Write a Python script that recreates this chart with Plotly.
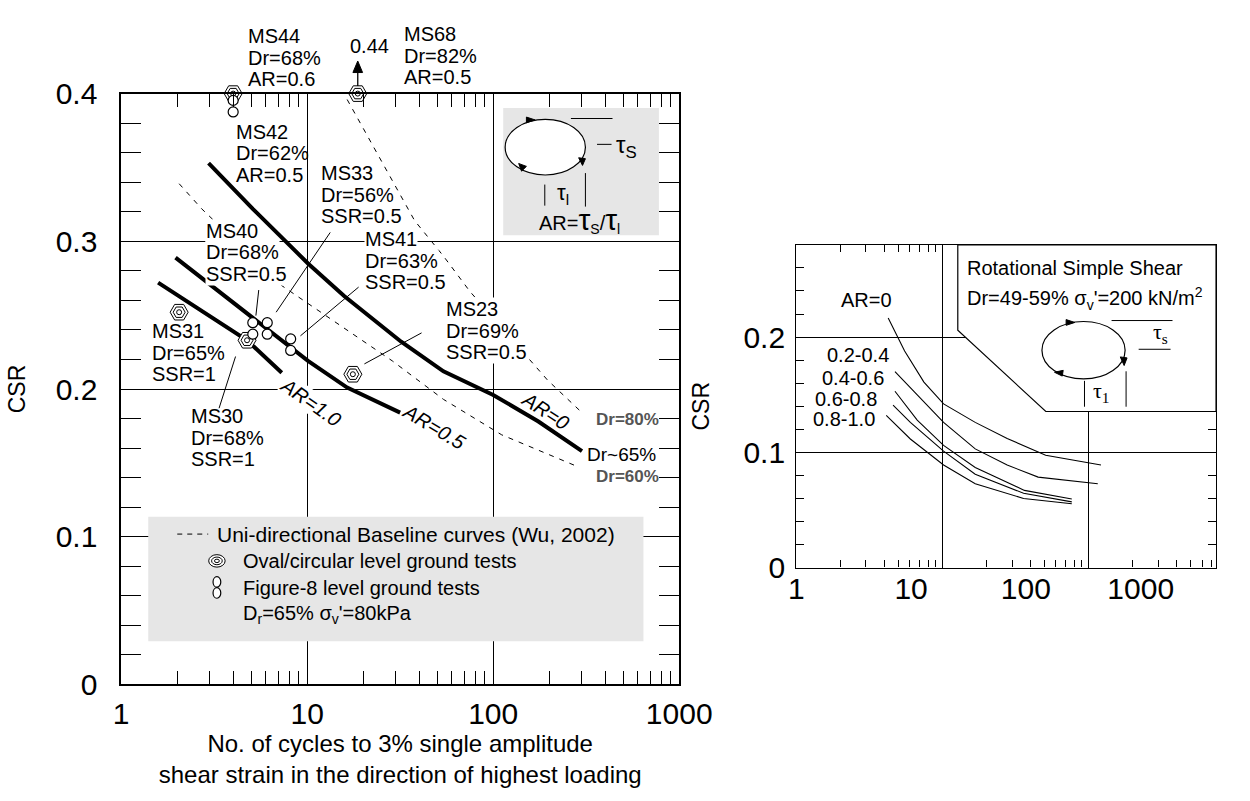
import numpy as np
import plotly.graph_objects as go

W, H = 1250, 801
FONT = "Arial, Liberation Sans, sans-serif"
SERIF = "Liberation Serif, Times New Roman, serif"


def PX(x):
    return x / W


def PY(y):
    return 1 - y / H


# ---------------- Left panel data ----------------
ar0_n = [2.95, 5.1, 10.1, 15.8, 32, 54, 100, 175, 300]
ar0_csr = [0.353, 0.322, 0.285, 0.263, 0.232, 0.212, 0.196, 0.178, 0.158]
ar05_n = [1.96, 4.9, 10.1, 16.4, 31.6]
ar05_csr = [0.289, 0.250, 0.219, 0.201, 0.184]
ar10_n = [1.58, 2.71, 4.75, 7.3]
ar10_csr = [0.272, 0.253, 0.233, 0.211]
dr80_n = [16.4, 37.8, 54, 75, 196, 300]
dr80_csr = [0.396, 0.314, 0.290, 0.266, 0.206, 0.184]
dr60_n = [2.05, 2.71, 7.3, 12.9, 28.7, 54, 111, 290]
dr60_csr = [0.339, 0.322, 0.270, 0.249, 0.219, 0.193, 0.169, 0.147]

oval_names = ["MS44", "MS68", "MS31", "MS30", "MS23"]
oval_n = [4.0, 18.7, 2.05, 4.75, 17.6]
oval_csr = [0.40, 0.40, 0.252, 0.233, 0.210]
fig8_names = ["MS42", "MS40", "MS33", "MS41"]
fig8_n = [4.0, 5.1, 6.1, 8.15]
fig8_csr = [0.3915, 0.241, 0.241, 0.230]

# leader lines: (N at label end, CSR at label end, N at point end, CSR at point end)
leader_lines = [(5.49, 0.267, 5.3, 0.2497), (13.3, 0.306, 6.81, 0.252),
                (18.9, 0.269, 9.2, 0.236), (41.2, 0.238, 20.3, 0.217),
                (3.36, 0.187, 4.12, 0.222)]

left_xticks = [1, 10, 100, 1000]
left_xticktext = ["1", "10", "100", "1000"]
left_yticks = [0, 0.1, 0.2, 0.3, 0.4]
left_yticktext = ["0", "0.1", "0.2", "0.3", "0.4"]

# ---------------- Right panel data ----------------
r_ar0_n = [4.26, 5.52, 7.48, 10.2, 16.8, 27.8, 51, 122]
r_ar0_csr = [0.2165, 0.188, 0.161, 0.142, 0.126, 0.112, 0.0975, 0.089]
r_0204_n = [4.74, 6.73, 10.2, 16.8, 27.8, 45.3, 116]
r_0204_csr = [0.170, 0.150, 0.126, 0.103, 0.089, 0.0785, 0.0727]
r_0406_n = [4.74, 6.73, 10.2, 16.8, 36.5, 77]
r_0406_csr = [0.153, 0.128, 0.106, 0.0868, 0.067, 0.0595]
r_0608_n = [4.6, 6.04, 10.2, 16.8, 36, 77]
r_0608_csr = [0.141, 0.126, 0.101, 0.081, 0.0645, 0.057]
r_0810_n = [4.13, 6.04, 10.2, 16.8, 36, 77]
r_0810_csr = [0.132, 0.1116, 0.089, 0.0727, 0.060, 0.0554]

right_xticks = [1, 10, 100, 1000]
right_xticktext = ["1", "10", "100", "1000"]
right_yticks = [0, 0.1, 0.2]
right_yticktext = ["0", "0.1", "0.2"]

# pixel frame of the left panel (used for paper-referenced decorations)
L_X0, L_X1, L_Y0, L_Y1 = 117, 694, 697, 80


def left_px(n):
    return L_X0 + np.log10(n) * (L_X1 - L_X0) / 3.0


def left_py(c):
    return L_Y0 - c * (L_Y0 - L_Y1) / 0.4


fig = go.Figure()


def add_line(n, c, width, dash=None, xa="x", ya="y"):
    fig.add_trace(go.Scatter(x=n, y=c, mode="lines",
                             line=dict(color="black", width=width, dash=dash),
                             xaxis=xa, yaxis=ya, showlegend=False, hoverinfo="skip"))


# left curves
add_line(dr80_n, dr80_csr, 1, "5px,6px")
add_line(dr60_n, dr60_csr, 1, "5px,6px")
add_line(ar0_n, ar0_csr, 4)
add_line(ar05_n, ar05_csr, 4)
add_line(ar10_n, ar10_csr, 4)

# leader lines
for n0, c0, n1, c1 in leader_lines:
    fig.add_trace(go.Scatter(x=[n0, n1], y=[c0, c1], mode="lines",
                             line=dict(color="black", width=1), showlegend=False,
                             hoverinfo="skip", xaxis="x", yaxis="y"))

# oval markers (concentric rings)
for sym, size, col in [("hexagon2", 18, "white"), ("hexagon2-open", 12, "black"), ("circle-open", 5, "black")]:
    fig.add_trace(go.Scatter(x=oval_n, y=oval_csr, mode="markers", text=oval_names,
                             marker=dict(symbol=sym, size=size, color=col,
                                         line=dict(color="black", width=1)),
                             cliponaxis=False, showlegend=False, hoverinfo="text",
                             xaxis="x", yaxis="y"))
# figure-8 markers (two stacked loops)
off = 0.0039
f8_y = [c + off for c in fig8_csr] + [c - off for c in fig8_csr]
fig.add_trace(go.Scatter(x=fig8_n + fig8_n, y=f8_y, mode="markers", text=fig8_names * 2,
                         marker=dict(symbol="circle", size=10, color="white",
                                     line=dict(color="black", width=1.2)),
                         cliponaxis=False, showlegend=False, hoverinfo="text",
                         xaxis="x", yaxis="y"))

# right curves
for n, c in [(r_ar0_n, r_ar0_csr), (r_0204_n, r_0204_csr), (r_0406_n, r_0406_csr),
             (r_0608_n, r_0608_csr), (r_0810_n, r_0810_csr)]:
    add_line(n, c, 1.1, None, "x2", "y2")
# empty trace to carry the label axis of the right panel
fig.add_trace(go.Scatter(x=[], y=[], xaxis="x3", yaxis="y2", showlegend=False, hoverinfo="skip"))

minor_log = [m * 10 ** k for k in range(4) for m in range(2, 10)]
tickfont = dict(size=30, color="black", family=FONT)

fig.update_layout(
    width=W, height=H, margin=dict(l=0, r=0, t=0, b=0),
    paper_bgcolor="white", plot_bgcolor="white",
    font=dict(family=FONT, color="black", size=20),
    showlegend=False,
    xaxis=dict(domain=[PX(L_X0), PX(L_X1)], type="log", range=[0, 3], anchor="y",
               tickmode="array", tickvals=left_xticks, ticktext=left_xticktext,
               tickfont=tickfont, ticks="", ticklabelstandoff=2, showline=True, linecolor="black",
               linewidth=1.5, mirror="allticks", showgrid=True, gridcolor="black", gridwidth=1,
               zeroline=False,
               minor=dict(tickmode="array", tickvals=minor_log, ticks="inside", ticklen=14,
                          tickcolor="black", tickwidth=1, showgrid=False),
               title=dict(text="No. of cycles to 3% single amplitude<br>shear strain in the direction of highest loading",
                          font=dict(size=24), standoff=4)),
    yaxis=dict(domain=[PY(L_Y0), PY(L_Y1)], range=[0, 0.4], anchor="x",
               tickmode="array", tickvals=left_yticks, ticktext=left_yticktext,
               tickfont=tickfont, ticks="", ticklabelstandoff=16, showline=True, linecolor="black",
               linewidth=1.5, mirror="allticks", showgrid=True, gridcolor="black", gridwidth=1,
               zeroline=False,
               minor=dict(tickmode="array", tickvals=[i / 50 for i in range(1, 20) if i % 5],
                          ticks="inside", ticklen=20, tickcolor="black", tickwidth=1, showgrid=False),
               title=dict(text="CSR", font=dict(size=23), standoff=24)),
    xaxis2=dict(domain=[PX(815), PX(1249)], type="log", range=[0, 2.874], anchor="y2",
                tickmode="array", tickvals=right_xticks, showticklabels=False, ticks="",
                showline=True, linecolor="black", linewidth=1.2, mirror="allticks",
                showgrid=True, gridcolor="black", gridwidth=1, zeroline=False,
                minor=dict(tickmode="array", tickvals=minor_log, ticks="inside", ticklen=7,
                           tickcolor="black", tickwidth=1, showgrid=False)),
    xaxis3=dict(domain=[PX(815), PX(1249)], type="log", range=[0, 3.656], anchor="y2",
                overlaying="x2", tickmode="array", tickvals=right_xticks, ticktext=right_xticktext,
                tickfont=tickfont, ticks="", showline=False, showgrid=False, zeroline=False),
    yaxis2=dict(domain=[PY(575), PY(238)], range=[0, 0.28], anchor="x2",
                tickmode="array", tickvals=right_yticks, ticktext=right_yticktext,
                tickfont=tickfont, ticks="", ticklabelstandoff=4, showline=True, linecolor="black",
                linewidth=1.2, mirror="allticks", showgrid=True, gridcolor="black", gridwidth=1,
                zeroline=False,
                minor=dict(tickmode="array", tickvals=[i / 50 for i in range(1, 14) if i % 5],
                           ticks="inside", ticklen=8, tickcolor="black", tickwidth=1, showgrid=False),
                title=dict(text="CSR", font=dict(size=23), standoff=27)),
)

shapes = []


def prect(x0, y0, x1, y1, fill, line_w=0, layer="above"):
    shapes.append(dict(type="rect", xref="paper", yref="paper", x0=PX(x0), x1=PX(x1),
                       y0=PY(y1), y1=PY(y0), fillcolor=fill, line=dict(width=line_w, color="black"),
                       layer=layer))


def pline(x0, y0, x1, y1, w=1, dash=None):
    shapes.append(dict(type="line", xref="paper", yref="paper", x0=PX(x0), x1=PX(x1),
                       y0=PY(y0), y1=PY(y1), line=dict(color="black", width=w, dash=dash),
                       layer="above"))


def pell(cx, cy, rx, ry, fill="white", w=1.2):
    shapes.append(dict(type="circle", xref="paper", yref="paper", x0=PX(cx - rx), x1=PX(cx + rx),
                       y0=PY(cy + ry), y1=PY(cy - ry), fillcolor=fill,
                       line=dict(color="black", width=w), layer="above"))


def ptri(pts):
    path = "M " + " L ".join(f"{PX(x)},{PY(y)}" for x, y in pts) + " Z"
    shapes.append(dict(type="path", xref="paper", yref="paper", path=path, fillcolor="black",
                       line=dict(color="black", width=1), layer="above"))


# arrow above MS68 (value 0.44 is off the scale)
ax_px = left_px(oval_n[1])
top_px = left_py(oval_csr[1])
pline(ax_px, top_px - 8, ax_px, top_px - 24, 1.3)
ptri([(ax_px - 5, top_px - 22), (ax_px, top_px - 34), (ax_px + 5, top_px - 22)])

# left inset (loading path)
prect(512, 95, 673, 228, "#e6e6e6")
pell(555.5, 136, 41.5, 29)
pline(582, 106, 625, 106)
pline(609, 133, 624, 133)
pline(555, 175, 555, 197)
pline(597, 163, 597, 198)
ptri([(536, 104.5), (545, 107.5), (536, 110.5)])
ptri([(590, 147), (594, 155), (597, 148)])
ptri([(531, 161), (528, 153), (536, 156)])

# legend box
prect(145, 522, 657, 652, "#e6e6e6")
pline(175, 540, 207, 540, 1, "5px,5px")
pell(216, 568, 8.5, 6.5, "white", 1)
pell(216, 568, 5.5, 4, "white", 1)
pell(216, 568, 2.5, 1.8, "white", 1)
pell(216, 590, 4, 5.5, "white", 1.2)
pell(216, 601.5, 4, 5.5, "white", 1.2)

# right inset box
shapes.append(dict(type="path", xref="paper", yref="paper",
                   path=f"M {PX(982)},{PY(238)} L {PX(982)},{PY(327)} L {PX(1073)},{PY(412)} "
                        f"L {PX(1249)},{PY(412)} L {PX(1249)},{PY(238)} Z",
                   fillcolor="white", line=dict(color="black", width=1.2), layer="above"))
pell(1112, 348, 43, 30)
pline(1141, 317, 1204, 317)
pline(1169, 347, 1202, 347)
pline(1113, 380, 1113, 407)
pline(1156, 370, 1156, 407)
ptri([(1094, 316), (1103, 319), (1094, 322)])
ptri([(1150, 355), (1154, 364), (1157, 356)])
ptri([(1091, 369), (1082, 371), (1090, 375)])

fig.update_layout(shapes=shapes)

ann = []


def ptext(x, y, text, size=20, xanchor="left", yanchor="middle", bg=None, color="black",
          angle=0, align="left", family=FONT):
    d = dict(xref="paper", yref="paper", x=PX(x), y=PY(y), text=text, showarrow=False,
             xanchor=xanchor, yanchor=yanchor, align=align, textangle=angle,
             font=dict(size=size, color=color, family=family), borderpad=0)
    if bg:
        d["bgcolor"] = bg
    ann.append(d)


def block(x, y_first, lines, bg=None, step=22.5):
    for i, t in enumerate(lines):
        ptext(x, y_first + i * step, t, bg=bg)


# test labels
block(247, 20, ["MS44", "Dr=68%", "AR=0.6"])
block(408, 18, ["MS68", "Dr=82%", "AR=0.5"])
ptext(353, 30, "0.44")
block(235, 120, ["MS42", "Dr=62%", "AR=0.5"])
block(323, 163, ["MS33", "Dr=56%", "SSR=0.5"])
block(204, 223, ["MS40", "Dr=68%", "SSR=0.5"], bg="white")
block(368, 232, ["MS41", "Dr=63%", "SSR=0.5"], bg="white")
block(452, 305, ["MS23", "Dr=69%", "SSR=0.5"], bg="white")
block(148, 328, ["MS31", "Dr=65%", "SSR=1"])
block(188, 417, ["MS30", "Dr=68%", "SSR=1"])
# curve labels
ptext(313, 402, "<i>AR=1.0</i>", xanchor="center", angle=35, bg="white")
ptext(441, 428, "<i>AR=0.5</i>", xanchor="center", angle=31, bg="white")
ptext(556, 411, "<i>AR=0</i>", xanchor="center", angle=33)
ptext(607, 420, "<b>Dr=80%</b>", size=17, color="#555555")
ptext(598, 457, "Dr~65%", size=19)
ptext(607, 480, "<b>Dr=60%</b>", size=17, color="#555555")
# left inset text
ptext(628, 135, "τ<sub>S</sub>", size=24)
ptext(574, 185, "τ<sub>l</sub>", size=22, xanchor="center")
ptext(591, 212, "AR=<span style='font-size:30px'>τ</span><sub>S</sub>/<span style='font-size:30px'>τ</span><sub>l</sub>",
      size=20, xanchor="center")
# legend text
ptext(215, 540, "Uni-directional Baseline curves (Wu, 2002)", size=21)
ptext(242, 568, "Oval/circular level ground tests")
ptext(242, 596, "Figure-8 level ground tests")
ptext(242, 624, "D<sub>r</sub>=65% σ<sub>v</sub>'=80kPa")
# right panel text
ptext(888, 296, "AR=0", xanchor="center")
ptext(912, 353, "0.2-0.4", xanchor="right", bg="white")
ptext(907, 377, "0.4-0.6", xanchor="right", bg="white")
ptext(900, 399, "0.6-0.8", xanchor="right", bg="white")
ptext(897, 420, "0.8-1.0", xanchor="right", bg="white")
ptext(991, 262, "Rotational Simple Shear")
ptext(991, 294, "Dr=49-59% σ<sub>v</sub>'=200 kN/m<sup>2</sup>")
ptext(1192, 330, "τ<sub>s</sub>", size=22, xanchor="center", family=SERIF)
ptext(1131, 392, "τ<sub>1</sub>", size=22, xanchor="center", family=SERIF)

fig.update_layout(annotations=ann)
fig.write_html("out.html")
